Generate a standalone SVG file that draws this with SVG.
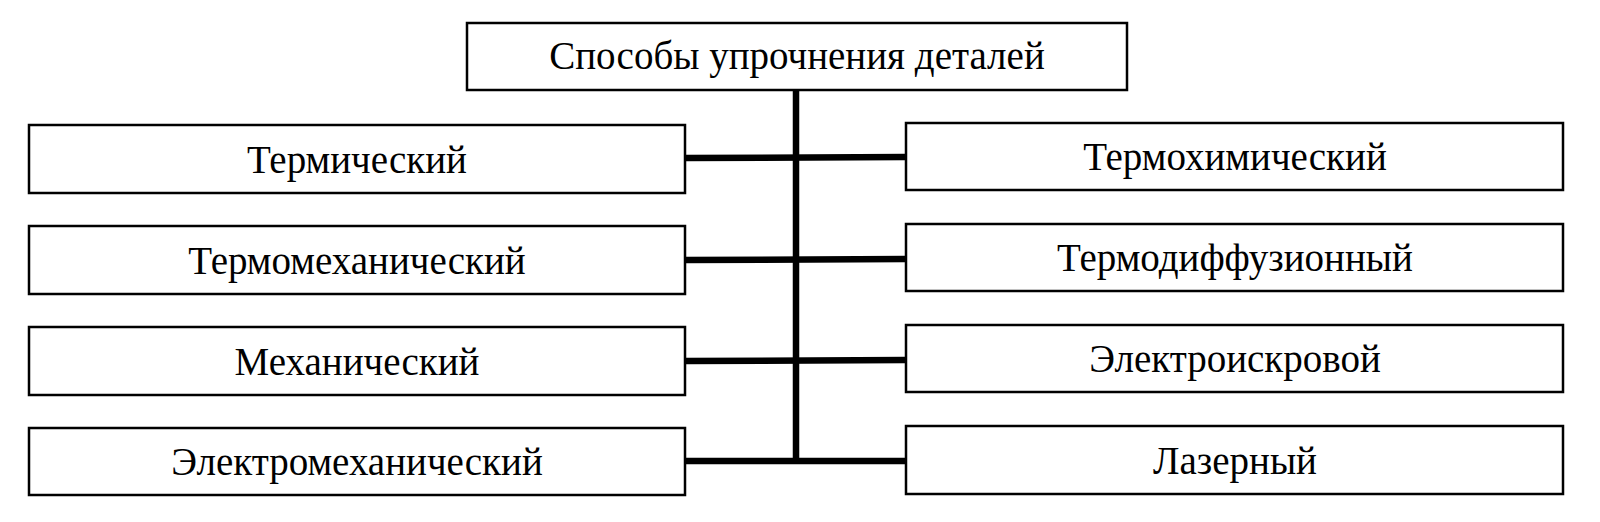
<svg xmlns="http://www.w3.org/2000/svg" width="1600" height="522" viewBox="0 0 1600 522">
<style>
.box{fill:#fff;stroke:#000;stroke-width:2.5}
.lbl{font-family:"Liberation Serif","Times New Roman",serif;font-size:39px;fill:#000;text-anchor:middle}
.con{stroke:#000;stroke-width:6.5;fill:none}
</style>
<rect width="1600" height="522" fill="#fff"/>
<g id="connectors">
<line class="con" x1="796" y1="90" x2="796" y2="461"/>
<line class="con" x1="685" y1="158" x2="906" y2="157"/>
<line class="con" x1="685" y1="260" x2="906" y2="259"/>
<line class="con" x1="685" y1="361" x2="906" y2="360"/>
<line class="con" x1="685" y1="461" x2="906" y2="461"/>
</g>
<g id="root"><rect class="box" x="467" y="23" width="660" height="67"/><text class="lbl" x="797" y="69">Способы упрочнения деталей</text></g>
<g id="n1"><rect class="box" x="29" y="125" width="656" height="68"/><text class="lbl" x="357" y="173">Термический</text></g>
<g id="n2"><rect class="box" x="29" y="226" width="656" height="68"/><text class="lbl" x="357" y="274">Термомеханический</text></g>
<g id="n3"><rect class="box" x="29" y="327" width="656" height="68"/><text class="lbl" x="357" y="375">Механический</text></g>
<g id="n4"><rect class="box" x="29" y="428" width="656" height="67"/><text class="lbl" x="357" y="475">Электромеханический</text></g>
<g id="n5"><rect class="box" x="906" y="123" width="657" height="67"/><text class="lbl" x="1235" y="170">Термохимический</text></g>
<g id="n6"><rect class="box" x="906" y="224" width="657" height="67"/><text class="lbl" x="1235" y="271">Термодиффузионный</text></g>
<g id="n7"><rect class="box" x="906" y="325" width="657" height="67"/><text class="lbl" x="1235" y="372">Электроискровой</text></g>
<g id="n8"><rect class="box" x="906" y="426" width="657" height="68"/><text class="lbl" x="1235" y="474">Лазерный</text></g>
</svg>
